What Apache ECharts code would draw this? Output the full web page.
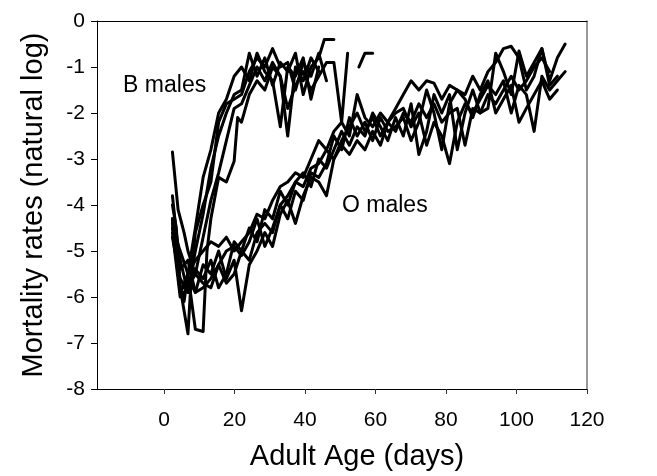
<!DOCTYPE html>
<html>
<head>
<meta charset="utf-8">
<script src="https://cdn.jsdelivr.net/npm/echarts@6/dist/echarts.min.js"></script>
<style>
html,body{margin:0;padding:0;background:#fff;}
#c{width:657px;height:476px;}
</style>
</head>
<body>
<div id="c"></div>
<script>
// ---- axis ticks ----
var xTicks = [0, 20, 40, 60, 80, 100, 120];

// ---- B males: [adult age (days), ln mortality] ----
var bMale1 = [[2.4,-2.85],[4.0,-4.1],[5.7,-4.6],[6.8,-5.0],[8.9,-5.5],[11.1,-4.7],[13.3,-3.9],[15.5,-3.3],[17.7,-2.6],[19.9,-1.9],[22.0,-1.8],[24.2,-1.4],[26.4,-1.0],[28.6,-1.3],[30.8,-0.9],[33.0,-1.2],[35.1,-2.5],[37.3,-1.0],[39.5,-1.3],[41.7,-0.8],[43.9,-1.1]];
var bMale2 = [[2.4,-3.8],[3.5,-4.6],[4.6,-5.2],[6.8,-5.9],[8.9,-5.0],[11.1,-4.2],[13.3,-3.2],[15.5,-2.5],[17.7,-2.0],[19.9,-1.6],[22.0,-1.5],[24.2,-0.7],[26.4,-1.2],[28.6,-0.8],[30.8,-1.4],[33.0,-0.9],[35.1,-1.1],[37.3,-0.7],[39.5,-1.6],[41.7,-1.0],[43.9,-0.8],[45.5,-0.4],[48.2,-0.4]];
var bMale3 = [[2.4,-4.3],[3.5,-4.8],[4.6,-5.8],[6.8,-6.8],[7.8,-5.5],[8.9,-4.6],[11.1,-4.0],[13.3,-3.5],[15.5,-2.2],[17.7,-1.8],[19.9,-1.7],[22.0,-1.6],[24.2,-1.1],[26.4,-0.8],[28.6,-1.0],[30.8,-0.6],[33.0,-1.0],[35.1,-0.9],[37.3,-1.5],[39.5,-0.9],[41.7,-1.2],[43.9,-0.7],[46.1,-1.3]];
var bMale4 = [[2.4,-4.5],[4.6,-5.0],[6.8,-5.5],[8.9,-6.7],[11.1,-6.75],[12.2,-5.0],[13.3,-4.3],[15.5,-3.4],[17.7,-3.5],[19.9,-3.05],[20.9,-2.1],[22.0,-2.2],[24.2,-1.6],[26.4,-1.3],[28.6,-1.5],[30.8,-1.0],[33.0,-1.2],[35.1,-1.9],[37.3,-1.4],[39.5,-1.1],[41.7,-1.5],[43.9,-1.2],[46.1,-0.9],[48.2,-0.9],[50.4,-2.2],[52.1,-0.7],[53.5,null],[55.3,-1.0],[57.0,-0.7],[59.2,-0.7]];
var bMale5 = [[2.4,-4.0],[3.5,-4.5],[4.6,-5.8],[5.7,-6.1],[6.8,-5.5],[8.9,-4.5],[11.1,-3.4],[13.3,-2.8],[15.5,-2.0],[17.7,-1.7],[19.9,-1.2],[22.0,-1.0],[24.2,-1.3],[26.4,-0.7],[28.6,-1.1],[30.8,-1.3],[33.0,-2.3],[35.1,-1.0],[37.3,-1.2],[39.5,-0.8],[41.7,-1.7],[43.9,-1.0]];

// ---- O males: census days and ln mortality per line ----
var oDays = [2.4,4.6,6.8,8.9,11.1,13.3,15.5,17.7,19.9,22.0,24.2,26.4,28.6,30.8,33.0,35.1,37.3,39.5,41.7,43.9,46.1,48.2,50.4,52.6,54.8,57.0,59.2,61.4,63.5,65.7,67.9,70.1,72.3,74.5,76.6,78.8,81.0,83.2,85.4,87.6,89.7,91.9,94.1,96.3,98.5,100.7,102.8,105.0,107.2,109.4,111.6,113.8];
var oMale1 = [-4.4,-5.9,-5.5,-5.2,-5.0,-4.8,-4.9,-4.7,-5.0,-4.8,-4.6,-4.2,-4.3,-3.9,-3.6,-3.5,-3.3,-3.4,-3.0,-2.6,-2.8,-2.4,-2.2,-2.5,-1.6,-2.1,-2.3,-2.0,-2.2,-1.9,-1.6,-1.3,-1.5,-1.3,-1.35,-1.7,-1.4,-1.5,-1.6,-1.2,-1.5,-1.1,-0.9,-0.6,-0.55,-0.8,-1.5,-1.2,-0.6,-1.3,-0.8,-0.5];
var oMale2 = [-4.6,-6.0,-5.8,-5.5,-5.7,-5.8,-5.3,-5.0,-4.9,-5.1,-4.8,-4.3,-4.9,-4.5,-4.0,-3.8,-3.5,-3.6,-3.2,-3.1,-2.8,-3.0,-2.6,-2.3,-2.0,-2.4,-2.1,-2.5,-2.2,-2.0,-1.9,-2.3,-2.0,-2.7,-2.2,-2.5,-3.1,-2.2,-1.8,-2.0,-1.7,-1.4,-1.6,-1.3,-2.0,-1.4,-1.6,-2.4,-1.2,-1.5,-1.3,-1.1];
var oMale3 = [-4.3,-5.9,-5.6,-5.9,-5.3,-5.5,-5.0,-5.6,-5.2,-6.3,-5.3,-5.0,-4.6,-4.9,-4.2,-3.9,-4.4,-3.8,-3.4,-3.5,-3.8,-3.0,-2.7,-2.9,-2.6,-2.8,-2.4,-2.7,-2.2,-2.4,-2.0,-2.2,-1.8,-2.1,-1.8,-2.2,-2.0,-1.9,-2.7,-1.9,-2.0,-1.6,-1.8,-1.5,-1.2,-1.5,-1.3,-1.0,-0.8,-1.1];
var oMale4 = [-4.7,-5.6,-5.9,-5.4,-5.6,-5.2,-5.8,-5.5,-4.8,-5.0,-4.5,-4.8,-4.1,-4.3,-3.7,-4.0,-3.5,-3.3,-3.6,-3.0,-3.2,-2.8,-2.4,-2.7,-2.3,-2.5,-2.0,-2.3,-2.6,-2.1,-2.5,-1.8,-2.9,-2.4,-1.6,-2.0,-1.6,-2.8,-2.0,-1.5,-2.0,-1.9,-0.7,-1.1,-1.6,-0.65,-1.2,-0.9,-0.6,-1.4,-1.2];
var oMale5 = [-4.5,-5.4,-5.2,-5.9,-5.8,-5.6,-5.3,-5.7,-5.5,-5.0,-5.2,-4.6,-4.4,-4.6,-4.0,-4.3,-3.7,-3.9,-3.3,-3.4,-3.1,-2.5,-2.8,-2.1,-2.5,-2.2,-2.6,-2.1,-2.4,-2.3,-2.1,-2.6,-2.2,-1.5,-2.0,-2.8,-1.8,-1.5,-1.7,-2.1,-1.6,-1.3,-2.0,-1.7,-1.4,-2.2,-1.9,-1.6,-1.3,-1.7,-1.5];

var annotations = [
  {text: 'B males', x: -11.6, y: -1.42},
  {text: 'O males', x: 50.5, y: -4.02}
];

function zipDays(days, vals) {
  return vals.map(function (v, i) { return [days[i], v]; });
}

var lineData = [bMale1, bMale2, bMale3, bMale4, bMale5,
  zipDays(oDays, oMale1), zipDays(oDays, oMale2), zipDays(oDays, oMale3),
  zipDays(oDays, oMale4), zipDays(oDays, oMale5)];

var FONT = '"Liberation Sans", Arial, Helvetica, sans-serif';
var chart = echarts.init(document.getElementById('c'), null, {renderer: 'canvas'});

var series = lineData.map(function (d) {
  return {
    type: 'line', data: d, symbol: 'none', connectNulls: false,
    lineStyle: {color: '#000', width: 3, join: 'round', cap: 'round'},
    silent: true, animation: false, z: 3
  };
});

chart.setOption({
  animation: false,
  backgroundColor: '#fff',
  grid: {left: 97, right: 70, top: 21, bottom: 76, containLabel: false},
  xAxis: [{
    type: 'value', min: -19, max: 120,
    name: 'Adult Age (days)', nameLocation: 'middle', nameGap: 53,
    nameTextStyle: {fontFamily: FONT, fontSize: 29, color: '#000', padding: [0, 0, 0, 30]},
    axisLine: {show: true, onZero: false, lineStyle: {color: '#000', width: 1}},
    axisTick: {show: true, inside: false, length: 5, customValues: xTicks, lineStyle: {color: '#333'}},
    axisLabel: {customValues: xTicks, margin: 21, fontFamily: FONT, fontSize: 21, color: '#000'},
    splitLine: {show: false}
  }, {
    type: 'value', min: -19, max: 120, position: 'top',
    axisLine: {show: true, onZero: false, lineStyle: {color: '#000', width: 1}},
    axisTick: {show: false}, axisLabel: {show: false}, splitLine: {show: false}
  }],
  yAxis: [{
    type: 'value', min: -8, max: 0, interval: 1,
    name: 'Mortality rates (natural log)', nameLocation: 'middle', nameGap: 49, nameRotate: 90,
    nameTextStyle: {fontFamily: FONT, fontSize: 29, color: '#000'},
    axisLine: {show: true, onZero: false, lineStyle: {color: '#000', width: 1}},
    axisTick: {show: true, inside: false, length: 6, lineStyle: {color: '#000'}},
    axisLabel: {margin: 12, fontFamily: FONT, fontSize: 21, color: '#000'},
    splitLine: {show: false}
  }, {
    type: 'value', min: -8, max: 0, position: 'right',
    axisLine: {show: true, onZero: false, lineStyle: {color: '#777', width: 1.5}},
    axisTick: {show: false}, axisLabel: {show: false}, splitLine: {show: false}
  }],
  series: series
});

var g = annotations.map(function (a) {
  var p = chart.convertToPixel({xAxisIndex: 0, yAxisIndex: 0}, [a.x, a.y]);
  return {
    type: 'text', left: p[0], top: p[1] - 12, z: 10,
    style: {text: a.text, fontFamily: FONT, fontSize: 23, fill: '#000'}
  };
});
chart.setOption({graphic: g});
</script>
</body>
</html>
